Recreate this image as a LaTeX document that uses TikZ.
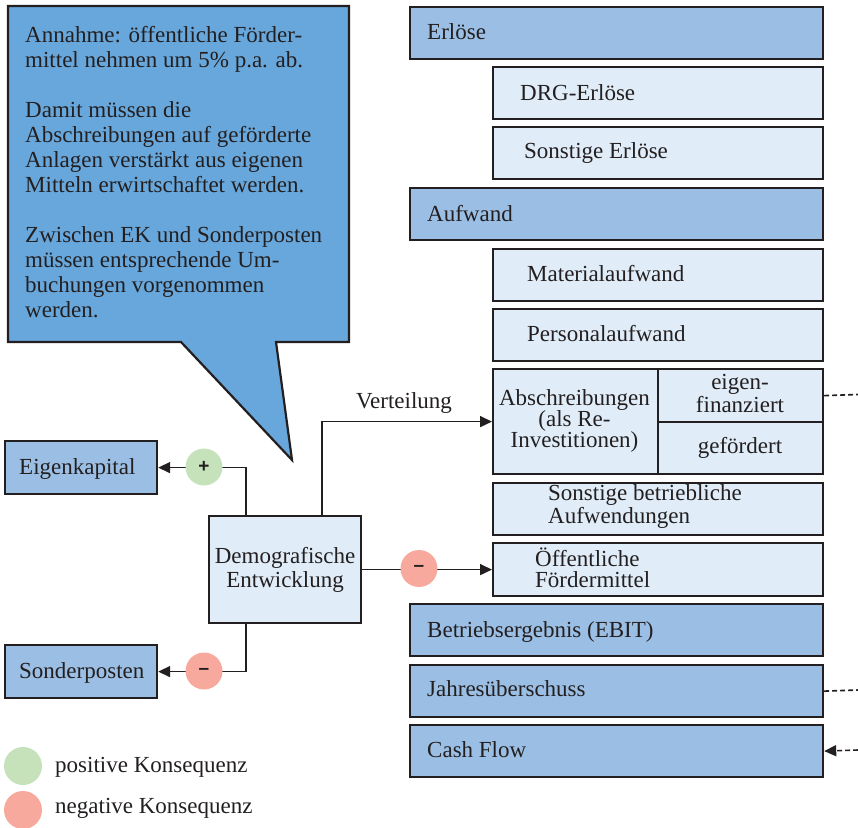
\documentclass[tikz,border=0pt]{standalone}
\usepackage{fontspec}
\setmainfont{Liberation Serif}
\newfontfamily\signfont{Liberation Sans}
\usetikzlibrary{arrows.meta}
\definecolor{callblue}{RGB}{104,167,219}
\definecolor{darkbox}{RGB}{155,191,228}
\definecolor{lightbox}{RGB}{224,237,248}
\definecolor{posgreen}{RGB}{197,226,187}
\definecolor{negred}{RGB}{246,169,156}
\definecolor{ink}{RGB}{35,31,32}
\tikzset{
  dbox/.style={draw=ink, line width=2.2pt, fill=darkbox, anchor=north west, inner sep=0pt, minimum height=52pt},
  lbox/.style={draw=ink, line width=2.2pt, fill=lightbox, anchor=north west, inner sep=0pt, minimum height=52pt},
  lbl/.style={anchor=base west, inner sep=0pt, text=ink, font=\fontsize{23}{21}\selectfont},
  clbl/.style={anchor=base, inner sep=0pt, text=ink, align=center, font=\fontsize{23}{21}\selectfont},
  conn/.style={draw=ink, line width=1.6pt},
  arr/.style={conn, -{Triangle[length=12pt,width=11pt]}},
  dline/.style={draw=ink, line width=1.6pt, dash pattern=on 5pt off 3pt},
  sign/.style={circle, minimum size=37pt, inner sep=0pt, text=ink, font=\signfont\bfseries\fontsize{19}{19}\selectfont},
  possign/.style={sign, fill=posgreen},
  negsign/.style={sign, fill=negred},
}
\begin{document}
\begin{tikzpicture}[x=1pt,y=-1pt]
\useasboundingbox (0,0) rectangle (858,827);

% callout
\draw[draw=ink, line width=2.2pt, fill=callblue, line join=miter]
  (8,6) -- (349,6) -- (349,342) -- (276,342) -- (292,460) -- (181,342) -- (8,342) -- cycle;
\node[anchor=base west, inner sep=0pt, text=ink, align=left, font=\fontsize{23}{25}\selectfont] (callt) at (25,317)
  {Annahme: öffentliche Förder-\\mittel nehmen um 5\% p.a. ab.\\[25pt]
   Damit müssen die\\Abschreibungen auf geförderte\\Anlagen verstärkt aus eigenen\\Mitteln erwirtschaftet werden.\\[25pt]
   Zwischen EK und Sonderposten\\müssen entsprechende Um-\\buchungen vorgenommen\\werden.};

% right column
\node[dbox, minimum width=413pt] (erl) at (409,6) {};
\node[lbl] (terl) at (427,39) {Erlöse};
\node[lbox, minimum width=330pt] (drg) at (492,66) {};
\node[lbl] (tdrg) at (520,100) {DRG-Erlöse};
\node[lbox, minimum width=330pt] (serl) at (492,126) {};
\node[lbl] (tserl) at (524,158) {Sonstige Erlöse};
\node[dbox, minimum width=413pt] (aufw) at (409,187) {};
\node[lbl] (taufw) at (427,221) {Aufwand};
\node[lbox, minimum width=330pt] (mat) at (492,248) {};
\node[lbl] (tmat) at (527,281) {Materialaufwand};
\node[lbox, minimum width=330pt] (pers) at (492,308) {};
\node[lbl] (tpers) at (527,341) {Personalaufwand};

\node[lbox, minimum width=165pt, minimum height=105pt] (absl) at (492,368) {};
\node[lbox, minimum width=165pt, minimum height=53pt] (eig) at (657,368) {};
\node[lbox, minimum width=165pt, minimum height=52pt] (gef) at (657,421) {};
\node[clbl] (tabs) at (574.5,447) {Abschreibungen\\(als Re-\\Investitionen)};
\node[clbl] (teig) at (740,412) {eigen-\\finanziert};
\node[clbl] (tgef) at (740,453) {gefördert};

\node[lbox, minimum width=330pt] (sba) at (492,482) {};
\node[lbl, align=left] (tsba) at (548,523) {Sonstige betriebliche\\Aufwendungen};
\node[lbox, minimum width=330pt, minimum height=53pt] (oeff) at (492,542) {};
\node[lbl, align=left] (toeff) at (535,587) {Öffentliche\\Fördermittel};

\node[dbox, minimum width=413pt] (ebit) at (409,603) {};
\node[lbl] (tebit) at (427,637) {Betriebsergebnis (EBIT)};
\node[dbox, minimum width=413pt] (jue) at (409,664) {};
\node[lbl] (tjue) at (427,696) {Jahresüberschuss};
\node[dbox, minimum width=413pt] (cf) at (409,724) {};
\node[lbl] (tcf) at (427,757) {Cash Flow};

% left column
\node[dbox, minimum width=152pt, minimum height=53pt] (ek) at (4,440) {};
\node[lbl] (tek) at (19,474) {Eigenkapital};
\node[dbox, minimum width=152pt, minimum height=53pt] (sp) at (4,644) {};
\node[lbl] (tsp) at (19,678) {Sonderposten};

\node[lbox, minimum width=152pt, minimum height=107pt, align=center, text=ink,
      font=\fontsize{23}{24}\selectfont] (demo) at (208,515) {Demografische\\Entwicklung};

% connectors
\draw[arr] (demo.north west) ++(38,0) |- (ek.east);
\draw[arr] (demo.south west) ++(38,0) |- (sp.east);
\draw[arr] (demo.north west) ++(114,0) |- (absl.west);
\node[anchor=base, inner sep=0pt, text=ink, font=\fontsize{23}{21}\selectfont] (tvert) at (404,408) {Verteilung};
\draw[arr] (demo.east) -- (oeff.west);

\node[possign] (cplus) at (204,467) {+};
\node[negsign] (cminus1) at (204,671) {–};
\node[negsign] (cminus2) at (419,568.5) {–};

% dashed links leaving the picture
\coordinate (oute) at (858,394.5);
\coordinate (outj) at (858,690);
\coordinate (outc) at (858,750);
\draw[dline] (eig.east) -- (oute);
\draw[dline] (jue.east) -- (outj);
\draw[dline, -{Triangle[length=12pt,width=11pt]}] (outc) -- (cf.east);

% legend
\node[circle, minimum size=38pt, inner sep=0pt, fill=posgreen] (lpos) at (23,766) {};
\node[lbl] (tlpos) at (55,772) {positive Konsequenz};
\node[circle, minimum size=38pt, inner sep=0pt, fill=negred] (lneg) at (23,810) {};
\node[lbl] (tlneg) at (55,813) {negative Konsequenz};
\end{tikzpicture}
\end{document}
